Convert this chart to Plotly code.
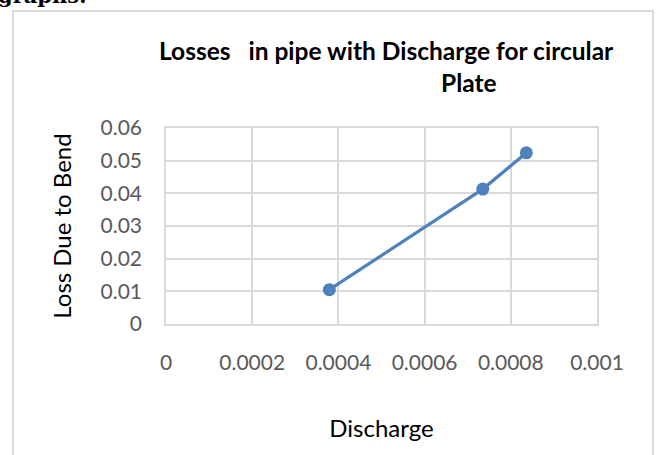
import plotly.graph_objects as go

# Data
discharge = [0.000379, 0.000735, 0.000836]
loss_due_to_bend = [0.0105, 0.0413, 0.0524]

x_tick_vals = [0, 0.0002, 0.0004, 0.0006, 0.0008, 0.001]
x_tick_text = ["0", "0.0002", "0.0004", "0.0006", "0.0008", "0.001"]
y_tick_vals = [0, 0.01, 0.02, 0.03, 0.04, 0.05, 0.06]
y_tick_text = ["0", "0.01", "0.02", "0.03", "0.04", "0.05", "0.06"]

W, H = 657, 455
L, R, T, B = 166, 60, 127.5, 130.7
pw = W - L - R
ph = H - T - B

def px2x(px):
    return (px - L) / pw

def px2y(py):
    return (H - B - py) / ph

FONT = "Lato"
BLUE = "#4f81bd"
GRID = "#d9d9d9"

fig = go.Figure()
fig.add_trace(go.Scatter(
    x=discharge, y=loss_due_to_bend,
    mode="lines+markers",
    line=dict(color=BLUE, width=3.2),
    marker=dict(color=BLUE, size=13),
    showlegend=False,
))

fig.update_layout(
    width=W, height=H,
    margin=dict(l=L, r=R, t=T, b=B, pad=0),
    paper_bgcolor="white", plot_bgcolor="white",
    font=dict(family=FONT),
    xaxis=dict(
        range=[0, 0.001], tickvals=x_tick_vals, ticktext=x_tick_text,
        showgrid=True, gridcolor=GRID, gridwidth=1.5,
        showline=True, linecolor=GRID, linewidth=1.5, mirror=True,
        zeroline=False, ticks="",
        tickfont=dict(family=FONT, size=21, color="#595959"),
        ticklabelstandoff=19,
        title=dict(text="Discharge", font=dict(family=FONT, size=24, color="#000000"), standoff=47),
        fixedrange=True,
    ),
    yaxis=dict(
        range=[0, 0.06], tickvals=y_tick_vals, ticktext=y_tick_text,
        showgrid=True, gridcolor=GRID, gridwidth=1.5,
        showline=True, linecolor=GRID, linewidth=1.5, mirror=True,
        zeroline=False, ticks="",
        tickfont=dict(family=FONT, size=21, color="#595959"),
        ticklabelstandoff=18,
        title=dict(text="Loss Due to Bend", font=dict(family=FONT, size=24, color="#000000"), standoff=22),
        fixedrange=True,
    ),
    shapes=[
        dict(type="rect", xref="paper", yref="paper",
             x0=px2x(13), x1=px2x(653), y0=px2y(470), y1=px2y(10),
             line=dict(color=GRID, width=2), fillcolor="rgba(0,0,0,0)", layer="below"),
    ],
    annotations=[
        dict(text="<b>Losses\u00a0\u00a0\u00a0in pipe with Discharge for circular</b>",
             xref="paper", yref="paper", x=px2x(386), y=px2y(50),
             xanchor="center", yanchor="middle", showarrow=False,
             font=dict(family=FONT, size=24.5, color="#000000")),
        dict(text="<b>Plate</b>",
             xref="paper", yref="paper", x=px2x(469), y=px2y(82),
             xanchor="center", yanchor="middle", showarrow=False,
             font=dict(family=FONT, size=24.5, color="#000000")),
        dict(text="<b>graphs.</b>",
             xref="paper", yref="paper", x=px2x(-4), y=px2y(9),
             xanchor="left", yanchor="bottom", showarrow=False,
             font=dict(family="DejaVu Serif", size=21, color="#000000")),
    ],
)

fig.write_html("out.html")
